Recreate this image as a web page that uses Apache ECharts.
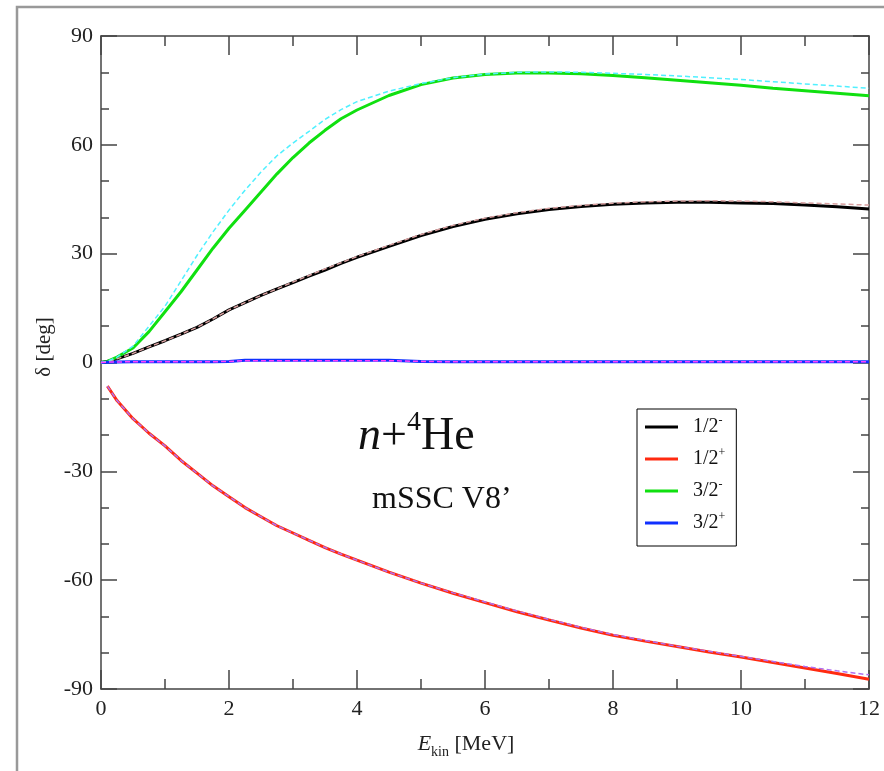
<!DOCTYPE html>
<html>
<head>
<meta charset="utf-8">
<script src="https://cdn.jsdelivr.net/npm/echarts@6/dist/echarts.min.js"></script>
<style>
  html, body { margin: 0; padding: 0; background: #fff; }
  #chart { width: 884px; height: 771px; }
</style>
</head>
<body>
<div id="chart"></div>
<script>
// Kinetic energy grid [MeV]
const energy = [0, 0.1, 0.25, 0.5, 0.75, 1, 1.25, 1.5, 1.75, 2, 2.25, 2.5, 2.75, 3, 3.25, 3.5, 3.75, 4,
                4.5, 5, 5.5, 6, 6.5, 7, 7.5, 8, 8.5, 9, 9.5, 10, 10.5, 11, 11.5, 12];

// Phase shifts [deg], full calculation (solid)
const delta12m = [0, 0.3, 1, 2.5, 4.3, 6, 7.8, 9.7, 12, 14.5, 16.5, 18.5, 20.3, 22, 23.8, 25.5, 27.3, 29,
                  32, 35, 37.5, 39.5, 41, 42.2, 43, 43.6, 44, 44.2, 44.2, 44, 43.8, 43.4, 42.9, 42.3];
const delta12p = [null, -6.5, -10.5, -15.5, -19.5, -23, -27, -30.5, -34, -37, -40, -42.5, -45, -47, -49, -51, -52.8, -54.5,
                  -57.8, -60.8, -63.6, -66.2, -68.7, -71, -73.2, -75.2, -76.8, -78.3, -79.8, -81.2, -82.7, -84.2, -85.7, -87.3];
const delta32m = [0, 0.3, 1.5, 4, 8.5, 14, 19.5, 25.5, 31.5, 37, 42, 47, 52, 56.5, 60.5, 64, 67.2, 69.6,
                  73.6, 76.6, 78.4, 79.4, 79.8, 79.8, 79.6, 79.1, 78.5, 77.8, 77.1, 76.4, 75.6, 74.9, 74.2, 73.5];
const delta32p = [0, 0.1, 0.15, 0.2, 0.2, 0.2, 0.2, 0.2, 0.2, 0.3, 0.6, 0.6, 0.6, 0.6, 0.6, 0.6, 0.6, 0.6,
                  0.6, 0.3, 0.2, 0.2, 0.2, 0.2, 0.2, 0.2, 0.2, 0.2, 0.2, 0.2, 0.2, 0.2, 0.2, 0.2];

// Phase shifts [deg], comparison calculation (dashed)
const ref12m = [0, 0.3, 1, 2.5, 4.3, 6, 7.8, 9.7, 12, 14.5, 16.5, 18.5, 20.3, 22.2, 24, 25.8, 27.5, 29.2,
                32.3, 35.3, 37.8, 39.8, 41.3, 42.5, 43.3, 43.9, 44.3, 44.5, 44.6, 44.5, 44.3, 44, 43.7, 43.4];
const ref12p = [null, -6.5, -10.5, -15.5, -19.5, -23, -27, -30.5, -34, -37, -40, -42.5, -45, -47, -49, -51, -52.8, -54.5,
                -57.8, -60.8, -63.5, -66, -68.5, -70.8, -73, -75, -76.6, -78.2, -79.6, -81, -82.4, -83.8, -85, -86.1];
const ref32m = [0, 0.3, 1.5, 4.5, 10, 15.5, 22.5, 29.5, 36, 42, 47.5, 52.5, 57, 60.5, 63.7, 67, 69.7, 71.9,
                74.8, 76.9, 78.5, 79.5, 80, 80.1, 80, 79.7, 79.4, 79, 78.5, 78, 77.4, 76.8, 76.2, 75.6];
const ref32p = [0, 0.1, 0.15, 0.2, 0.2, 0.2, 0.2, 0.2, 0.2, 0.3, 0.5, 0.5, 0.5, 0.5, 0.5, 0.5, 0.5, 0.5,
                0.5, 0.3, 0.2, 0.2, 0.2, 0.2, 0.2, 0.2, 0.2, 0.2, 0.2, 0.2, 0.2, 0.2, 0.2, 0.2];

// Axis ticks
const xTicks = [0, 2, 4, 6, 8, 10, 12];
const yTicks = [-90, -60, -30, 0, 30, 60, 90];

const pairs = (ys) => energy.map((e, i) => [e, ys[i]]);
const serif = 'Liberation Serif';

function solid(name, ys, color) {
  return { name, type: 'line', data: pairs(ys), showSymbol: false, symbol: 'none',
           lineStyle: { color, width: 3 }, itemStyle: { color }, z: 3, animation: false };
}
function dashed(name, ys, color) {
  return { name, type: 'line', data: pairs(ys), showSymbol: false, symbol: 'none',
           lineStyle: { color, width: 1.5, type: [5, 3] }, itemStyle: { color }, z: 4, animation: false };
}

const axisLine = { show: true, onZero: false, lineStyle: { color: '#444', width: 1.5 } };

function xAxisDef(pos, labels) {
  return {
    type: 'value', position: pos, min: xTicks[0], max: xTicks[xTicks.length - 1], interval: 2,
    axisLine, splitLine: { show: false },
    axisTick: { show: true, inside: true, length: 19, lineStyle: { color: '#444', width: 1.5 } },
    minorTick: { show: true, splitNumber: 2, length: 10, lineStyle: { color: '#444', width: 1.5 } },
    axisLabel: { show: labels, fontFamily: serif, fontSize: 22, color: '#222', margin: 9 }
  };
}
function yAxisDef(pos, labels) {
  return {
    type: 'value', position: pos, min: yTicks[0], max: yTicks[yTicks.length - 1], interval: 30,
    axisLine, splitLine: { show: false },
    axisTick: { show: true, inside: true, length: 16, lineStyle: { color: '#444', width: 1.5 } },
    minorTick: { show: true, splitNumber: 3, length: 8, lineStyle: { color: '#444', width: 1.5 } },
    axisLabel: { show: labels, fontFamily: serif, fontSize: 22, color: '#222', margin: 8 }
  };
}

const legendText = { '1/2-': '1/2{sup|-}', '1/2+': '1/2{sup|+}', '3/2-': '3/2{sup|-}', '3/2+': '3/2{sup|+}' };

const chart = echarts.init(document.getElementById('chart'), null, { renderer: 'canvas' });
chart.setOption({
  backgroundColor: '#fff',
  animation: false,
  grid: { left: 101, top: 36, width: 768, height: 653 },
  xAxis: [xAxisDef('bottom', true), xAxisDef('top', false)],
  yAxis: [yAxisDef('left', true), yAxisDef('right', false)],
  legend: {
    orient: 'vertical', left: 637, top: 409,
    data: ['1/2-', '1/2+', '3/2-', '3/2+'],
    icon: 'rect', itemWidth: 33, itemHeight: 3, itemGap: 8,
    padding: [6, 11, 11, 8],
    borderColor: '#000', borderWidth: 1, backgroundColor: '#fff',
    selectedMode: false,
    formatter: (n) => legendText[n],
    textStyle: {
      fontFamily: serif, fontSize: 20, color: '#111', lineHeight: 24, padding: [0, 0, 0, 10],
      rich: { sup: { fontFamily: serif, fontSize: 12, lineHeight: 24, verticalAlign: 'top', color: '#111' } }
    }
  },
  series: [
    solid('1/2-', delta12m, '#000000'),
    solid('1/2+', delta12p, '#ff2a10'),
    solid('3/2-', delta32m, '#10e010'),
    solid('3/2+', delta32p, '#1030ff'),
    dashed('ref 1/2-', ref12m, '#d8a0a0'),
    dashed('ref 1/2+', ref12p, '#b070f0'),
    dashed('ref 3/2-', ref32m, '#50f0ff'),
    dashed('ref 3/2+', ref32p, '#ff40ff')
  ],
  graphic: [
    { type: 'rect', silent: true, z: 0,
      shape: { x: 17, y: 7, width: 900, height: 800 },
      style: { fill: 'none', stroke: '#999', lineWidth: 2.5 } },
    { type: 'text', x: 44, y: 347, rotation: Math.PI / 2, silent: true,
      style: { text: 'δ [deg]', fontFamily: serif, fontSize: 21, fill: '#222',
               textAlign: 'center', textVerticalAlign: 'middle' } },
    { type: 'text', x: 466, y: 744, silent: true,
      style: { text: '{i|E}{sub|kin} [MeV]', fontFamily: serif, fontSize: 22, fill: '#222',
               textAlign: 'center', textVerticalAlign: 'middle',
               rich: { i: { fontFamily: serif, fontStyle: 'italic', fontSize: 22, fill: '#222' },
                       sub: { fontFamily: serif, fontSize: 14, fill: '#222', verticalAlign: 'bottom', lineHeight: 30 } } } },
    { type: 'text', x: 358, y: 437, silent: true,
      style: { text: '{i|n}+{sup|4}He', fontFamily: serif, fontSize: 46, fill: '#111',
               textAlign: 'left', textVerticalAlign: 'middle',
               rich: { i: { fontFamily: serif, fontStyle: 'italic', fontSize: 46, fill: '#111' },
                       sup: { fontFamily: serif, fontSize: 28, fill: '#111', verticalAlign: 'top', lineHeight: 56 } } } },
    { type: 'text', x: 372, y: 500, silent: true,
      style: { text: 'mSSC V8’', fontFamily: serif, fontSize: 32, fill: '#111',
               textAlign: 'left', textVerticalAlign: 'middle' } }
  ]
});
</script>
</body>
</html>
